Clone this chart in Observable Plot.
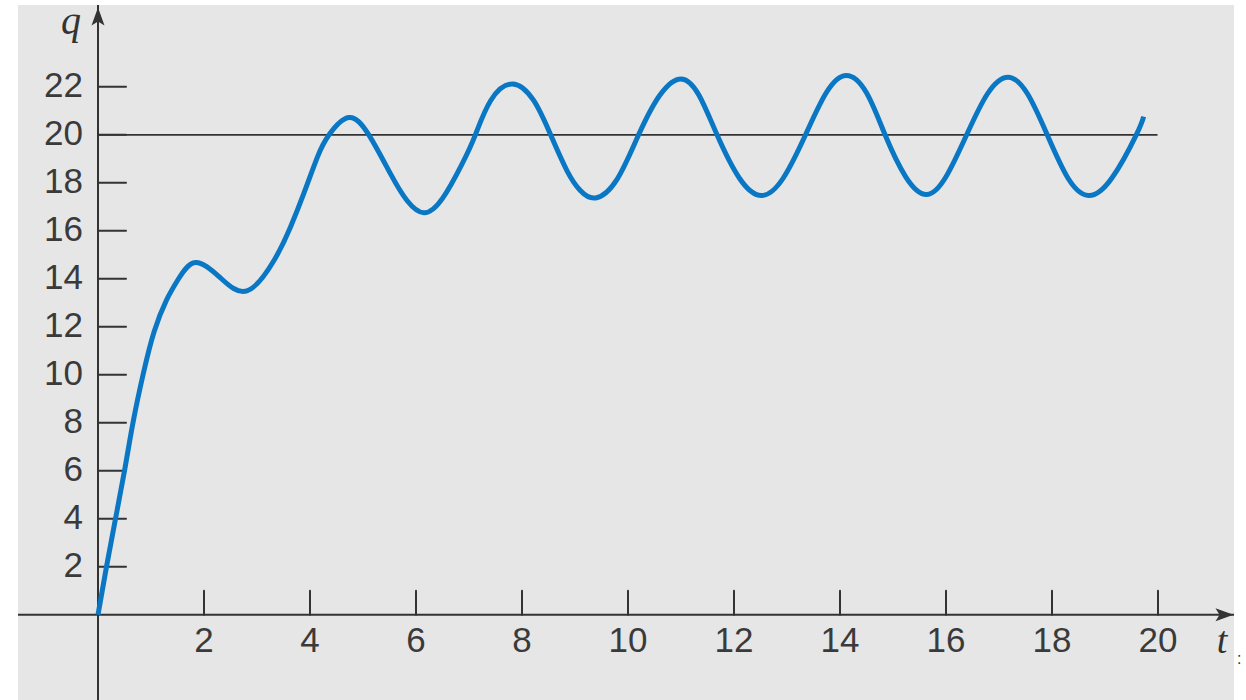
<!DOCTYPE html>
<html>
<head>
<meta charset="utf-8">
<script src="https://cdn.jsdelivr.net/npm/d3@7"></script>
<script src="https://cdn.jsdelivr.net/npm/@observablehq/plot@0.6"></script>
<style>
  html, body { margin: 0; padding: 0; background: #ffffff; }
  #wrap { position: absolute; left: 18px; top: 5px; width: 1216px; height: 695px; background: #e6e6e6; }
  #stray { position: absolute; left: 1237px; top: 650px; font: 16px "Liberation Sans", sans-serif; color: #333; }
</style>
</head>
<body>
<div id="wrap"></div>
<div id="stray">:</div>
<script>
// Curve samples
const tValues = [0, 0.16, 0.33, 0.5, 0.66, 0.85, 1.06, 1.29, 1.52, 1.84, 2.3, 2.81, 3.32, 3.63, 3.88, 4.14, 4.36, 4.73, 5.11, 5.52, 5.83, 6.15, 6.5, 6.87, 7.12, 7.41, 7.82, 8.22, 8.54, 8.85, 9.10, 9.39, 9.79, 10.2, 10.6, 11.0, 11.34, 11.68, 12.1, 12.52, 12.93, 13.35, 13.74, 14.12, 14.5, 14.85, 15.24, 15.63, 16.0, 16.39, 16.78, 17.17, 17.54, 17.91, 18.3, 18.69, 19.13, 19.59, 19.73];
const qValues = [0, 2, 4, 6, 8, 10, 11.8, 13.1, 14, 14.68, 14.06, 13.5, 14.76, 16.15, 17.54, 19.07, 20, 20.72, 20, 18.37, 17.26, 16.75, 17.35, 18.79, 20, 21.43, 22.12, 21.43, 20, 18.5, 17.68, 17.37, 18.13, 20, 21.65, 22.33, 21.65, 20, 18.2, 17.47, 18.2, 20, 21.75, 22.47, 21.75, 20, 18.25, 17.51, 18.25, 20, 21.7, 22.4, 21.7, 20, 18.2, 17.47, 18.2, 20, 20.76];
const equilibrium = [20];
const xTicks = [2, 4, 6, 8, 10, 12, 14, 16, 18, 20];
const yTicks = [2, 4, 6, 8, 10, 12, 14, 16, 18, 20, 22];
const xLabel = "t";
const yLabel = "q";

const data = tValues.map((t, i) => ({t, q: qValues[i]}));

const axisColor = "#333333";
const tickFont = "'Liberation Sans', Arial, sans-serif";
const serifFont = "'Liberation Serif', 'DejaVu Serif', serif";

const tickShape = { draw(context, l) { context.moveTo(0, 0); context.lineTo(0, -l); } };
const dart = { draw(context) {
  context.moveTo(0, 0);
  context.lineTo(6.5, 18);
  context.lineTo(0, 14);
  context.lineTo(-6.5, 18);
  context.closePath();
} };

const chart = Plot.plot({
  width: 1216,
  height: 695,
  margin: 0,
  style: { background: "transparent", overflow: "visible" },
  x: { domain: [0, 20], range: [79.5, 1139.5], axis: null },
  y: { domain: [0, 22], range: [609.3, 81.3], axis: null },
  marks: [
    Plot.ruleX([0], { stroke: axisColor, strokeWidth: 2 }),
    Plot.ruleY([0], { stroke: axisColor, strokeWidth: 2 }),
    Plot.ruleY(equilibrium, { x1: 0, x2: 20, stroke: axisColor, strokeWidth: 1.8 }),
    Plot.vector(yTicks, { x: 0, y: d => d, length: 28, rotate: 90, anchor: "start", shape: tickShape, stroke: axisColor, strokeWidth: 2 }),
    Plot.vector(xTicks, { x: d => d, y: 0, length: 24, rotate: 0, anchor: "start", shape: tickShape, stroke: axisColor, strokeWidth: 2 }),
    Plot.dot([0], { x: 0, frameAnchor: "top", symbol: dart, r: 1, fill: axisColor, stroke: "none", dy: 2 }),
    Plot.dot([0], { y: 0, frameAnchor: "right", symbol: dart, r: 1, fill: axisColor, stroke: "none", rotate: 90, dx: -1 }),
    Plot.text(yTicks, { x: 0, y: d => d, text: d => String(d), textAnchor: "end", dx: -15, dy: -1, fontSize: 35, fontFamily: tickFont, fill: "#3a3a3a" }),
    Plot.text(xTicks, { x: d => d, y: 0, text: d => String(d), dy: 26, fontSize: 35, fontFamily: tickFont, fill: "#3a3a3a" }),
    Plot.text([yLabel], { x: 0, frameAnchor: "top", text: d => d, dx: -27, dy: 0, fontSize: 40, fontStyle: "italic", fontFamily: serifFont, fill: axisColor }),
    Plot.text([xLabel], { x: 20, y: 0, text: d => d, dx: 64, dy: 26, fontSize: 38, fontStyle: "italic", fontFamily: serifFont, fill: axisColor }),
    Plot.line(data, { x: "t", y: "q", curve: "natural", stroke: "#0a77c4", strokeWidth: 5, strokeLinecap: "butt" })
  ]
});

document.getElementById("wrap").appendChild(chart);
</script>
</body>
</html>
